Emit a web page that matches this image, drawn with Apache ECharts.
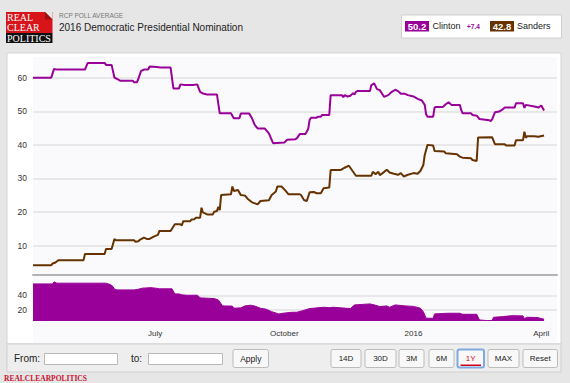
<!DOCTYPE html>
<html><head><meta charset="utf-8">
<script src="https://cdn.jsdelivr.net/npm/echarts@6/dist/echarts.min.js"></script>
<style>html,body{margin:0;padding:0;background:#e6e6e6;overflow:hidden}#c{width:570px;height:383px}</style>
</head><body><div id="c"></div>
<script>
// ---- data (RCP poll average, 2016 Democratic nomination) ----
const clinton = [
['2015-04-05',60.0],['2015-04-18',60.0],['2015-04-20',62.6],['2015-04-22',62.4],['2015-05-12',62.4],['2015-05-14',64.4],
['2015-05-26',64.4],['2015-05-27',63.8],['2015-05-31',63.8],['2015-06-02',60.0],['2015-06-04',59.6],['2015-06-06',59.1],
['2015-06-15',59.1],['2015-06-16',58.6],['2015-06-18',58.6],['2015-06-19',59.6],['2015-06-21',62.0],['2015-06-23',62.4],
['2015-06-26',62.4],['2015-06-27',63.3],['2015-07-02',63.2],['2015-07-05',63.0],['2015-07-12',63.0],['2015-07-14',56.8],
['2015-07-18',56.8],['2015-07-19',58.0],['2015-07-22',57.8],['2015-07-28',57.8],['2015-07-31',58.0],['2015-08-02',55.8],
['2015-08-04',55.3],['2015-08-07',55.0],['2015-08-14',55.0],['2015-08-16',49.4],['2015-08-24',49.4],['2015-08-26',47.9],
['2015-08-30',47.9],['2015-08-31',49.3],['2015-09-06',49.3],['2015-09-08',47.9],['2015-09-10',45.9],['2015-09-12',44.9],
['2015-09-17',44.9],['2015-09-20',43.4],['2015-09-23',40.5],['2015-10-01',40.7],['2015-10-03',41.5],['2015-10-09',41.7],
['2015-10-10',42.0],['2015-10-12',43.2],['2015-10-16',43.2],['2015-10-18',44.7],['2015-10-19',47.4],['2015-10-20',48.1],
['2015-10-24',48.1],['2015-10-25',48.4],['2015-10-27',48.4],['2015-10-28',48.9],['2015-11-02',48.9],['2015-11-03',54.8],
['2015-11-11',54.8],['2015-11-12',54.2],['2015-11-13',54.8],['2015-11-15',54.4],['2015-11-17',54.6],['2015-11-19',55.4],
['2015-11-20',55.0],['2015-11-21',55.8],['2015-11-22',56.0],['2015-12-01',56.0],['2015-12-02',57.8],['2015-12-04',58.3],
['2015-12-06',56.6],['2015-12-08',56.3],['2015-12-10',55.0],['2015-12-11',54.3],['2015-12-14',54.8],['2015-12-16',55.6],
['2015-12-19',56.4],['2015-12-21',56.0],['2015-12-23',55.2],['2015-12-26',55.2],['2015-12-28',54.8],['2016-01-01',54.4],
['2016-01-04',53.7],['2016-01-07',53.2],['2016-01-09',51.9],['2016-01-10',49.1],['2016-01-11',48.4],['2016-01-15',48.4],
['2016-01-16',51.1],['2016-01-17',51.3],['2016-01-22',51.3],['2016-01-24',52.1],['2016-01-26',52.7],['2016-01-28',51.9],
['2016-02-03',51.9],['2016-02-04',50.4],['2016-02-05',49.4],['2016-02-11',49.4],['2016-02-12',48.9],['2016-02-15',48.7],
['2016-02-17',47.7],['2016-02-24',47.3],['2016-02-25',47.1],['2016-02-26',47.6],['2016-02-28',49.7],['2016-03-02',49.9],
['2016-03-04',50.4],['2016-03-06',51.1],['2016-03-13',51.1],['2016-03-14',52.4],['2016-03-19',52.4],['2016-03-20',51.0],
['2016-03-21',51.9],['2016-03-27',51.4],['2016-03-30',51.1],['2016-04-01',51.7],['2016-04-03',50.2]
];
const sanders = [
['2015-04-05',4.2],['2015-04-18',4.2],['2015-04-19',4.7],['2015-04-21',5.0],['2015-04-23',5.7],['2015-05-11',5.7],
['2015-05-12',7.5],['2015-05-26',7.5],['2015-05-27',9.0],['2015-05-31',9.0],['2015-06-02',12.0],['2015-06-03',11.6],
['2015-06-16',11.6],['2015-06-17',11.2],['2015-06-19',11.3],['2015-06-20',11.7],['2015-06-23',12.4],['2015-06-25',12.0],
['2015-06-27',12.0],['2015-06-30',12.7],['2015-07-03',13.2],['2015-07-04',14.4],['2015-07-12',14.4],['2015-07-15',16.4],
['2015-07-19',16.4],['2015-07-20',16.0],['2015-07-21',17.3],['2015-07-26',17.3],['2015-07-27',17.8],['2015-07-29',17.9],
['2015-07-30',18.3],['2015-08-02',18.3],['2015-08-03',21.3],['2015-08-04',19.9],['2015-08-07',19.3],['2015-08-11',19.3],
['2015-08-12',20.1],['2015-08-14',20.3],['2015-08-15',21.6],['2015-08-16',20.6],['2015-08-17',25.1],['2015-08-24',25.3],
['2015-08-25',27.6],['2015-08-26',26.3],['2015-08-29',26.6],['2015-08-31',25.1],['2015-09-03',24.9],['2015-09-05',23.9],
['2015-09-08',22.9],['2015-09-12',22.3],['2015-09-14',23.3],['2015-09-20',23.5],['2015-09-22',25.1],['2015-09-25',26.1],
['2015-09-26',27.6],['2015-09-29',27.6],['2015-10-02',26.3],['2015-10-04',25.3],['2015-10-12',25.3],['2015-10-13',25.0],
['2015-10-15',23.6],['2015-10-17',23.3],['2015-10-19',25.9],['2015-10-22',26.0],['2015-10-24',25.6],['2015-10-27',25.6],
['2015-10-29',27.1],['2015-11-02',27.3],['2015-11-03',32.5],['2015-11-10',32.5],['2015-11-13',33.2],['2015-11-16',33.8],
['2015-11-17',33.2],['2015-11-21',30.8],['2015-12-02',30.8],['2015-12-03',32.0],['2015-12-05',31.3],['2015-12-07',32.0],
['2015-12-08',31.0],['2015-12-10',31.6],['2015-12-13',32.6],['2015-12-15',31.8],['2015-12-18',31.4],['2015-12-21',31.1],
['2015-12-23',31.6],['2015-12-25',30.6],['2015-12-28',31.1],['2016-01-01',31.6],['2016-01-04',31.4],['2016-01-06',32.3],
['2016-01-08',34.0],['2016-01-09',37.0],['2016-01-11',40.0],['2016-01-15',39.8],['2016-01-16',38.2],['2016-01-23',38.0],
['2016-01-24',37.5],['2016-02-01',37.2],['2016-02-03',36.5],['2016-02-05',36.2],['2016-02-11',36.0],['2016-02-12',35.5],
['2016-02-15',35.2],['2016-02-16',42.2],['2016-02-26',42.3],['2016-02-28',40.2],['2016-03-06',40.2],['2016-03-07',39.8],
['2016-03-13',39.8],['2016-03-14',41.4],['2016-03-19',41.4],['2016-03-20',43.9],['2016-03-21',42.1],['2016-03-22',42.6],
['2016-03-27',42.6],['2016-03-30',42.4],['2016-04-03',42.8]
];
// navigator series (Clinton lead)
const navigator = [
['2015-04-05',55.8],['2015-04-19',55.8],['2015-04-20',58.6],['2015-04-22',56.8],['2015-05-27',56.8],['2015-05-30',55.0],
['2015-06-01',52.1],['2015-06-02',48.6],['2015-06-04',47.6],['2015-06-16',47.6],['2015-06-19',48.5],['2015-06-22',50.0],
['2015-06-28',50.7],['2015-07-02',49.8],['2015-07-04',49.1],['2015-07-13',49.1],['2015-07-15',42.1],['2015-07-18',42.1],
['2015-07-20',40.8],['2015-07-24',40.3],['2015-07-31',40.3],['2015-08-02',37.0],['2015-08-03',36.6],['2015-08-12',35.7],
['2015-08-15',33.9],['2015-08-18',25.7],['2015-08-25',25.4],['2015-08-26',22.5],['2015-08-31',23.0],['2015-09-03',25.7],
['2015-09-07',26.6],['2015-09-10',25.4],['2015-09-14',22.5],['2015-09-18',21.2],['2015-09-22',17.8],['2015-09-27',14.7],
['2015-09-30',15.6],['2015-10-06',16.9],['2015-10-10',17.0],['2015-10-14',19.2],['2015-10-19',22.0],['2015-10-29',23.8],
['2015-11-02',23.3],['2015-11-05',23.8],['2015-11-17',22.0],['2015-11-20',27.0],['2015-12-01',28.4],['2015-12-05',26.6],
['2015-12-08',24.7],['2015-12-13',25.7],['2015-12-15',23.8],['2015-12-19',27.0],['2015-12-26',25.7],['2016-01-01',25.0],
['2016-01-06',22.5],['2016-01-08',17.8],['2016-01-10',8.8],['2016-01-15',8.8],['2016-01-16',14.7],['2016-01-25',15.6],
['2016-02-03',15.6],['2016-02-05',14.2],['2016-02-15',14.2],['2016-02-17',6.4],['2016-02-23',5.5],['2016-02-26',5.8],
['2016-02-27',10.1],['2016-03-05',11.0],['2016-03-11',12.3],['2016-03-19',12.0],['2016-03-20',8.3],['2016-03-22',10.1],
['2016-03-29',9.8],['2016-04-01',8.5],['2016-04-03',7.4]
];
const names = ['Clinton','Sanders'];
const xRange = ['2015-04-05','2016-04-12 05:00'];
const mainYTicks = {min:0, max:66, interval:10};
const navYRange = {min:5, max:68};
const navYTicks = [20, 40];
const navXTickDates = ['2015-07-01','2015-10-01','2016-01-01','2016-04-01'];
const navXTickLabels = ['July','October','2016','April'];
const rangeButtons = ['14D','30D','3M','6M','1Y','MAX','Reset'];
const selectedRange = '1Y';

// ---- styles / layout ----
const C_CL = '#990099', C_SA = '#663300';
const SANS = 'Liberation Sans, Arial, sans-serif';
const SERIF = 'Liberation Serif, Times New Roman, serif';
const btnX = [[331,361],[365,396],[399,424],[429,454],[457.5,484],[488,519],[523,557.5]];

const ts = s => echarts.time.parse(s).getTime();
const navXTickTs = navXTickDates.map(ts);
const labelOf = {}; navXTickTs.forEach((t,i)=>labelOf[t]=navXTickLabels[i]);

function rect(x,y,w,h,fill,stroke,lw,r,z){
  return {type:'rect', z:z==null?-10:z, silent:true, shape:{x,y,width:w,height:h,r:r||0},
    style:{fill:fill, stroke:stroke||null, lineWidth:lw||0}};
}
function text(x,y,str,font,fill,align,valign,z){
  return {type:'text', x, y, z:z==null?5:z, silent:true,
    style:{text:str, font:font, fill:fill, align:align||'left', textAlign:align||'left',
      verticalAlign:valign||'middle', textVerticalAlign:valign||'middle'}};
}

const lastC = clinton[clinton.length-1][1], lastS = sanders[sanders.length-1][1];
const lead = (lastC-lastS).toFixed(1);

const g = [];
g.push(rect(7,53,554,291,'#ffffff','#d4d4d4',1,0,-20));
g.push(rect(33,57,524,286,'#fafafc',null,0,0,-15));
g.push(rect(7,344,554,28,'#eeeeee','#cfcfcf',1,0,-12));
// logo
g.push(rect(6,12,46.5,21,'#d7141a',null,0,0,1));
g.push({type:'polygon',z:2,silent:true,shape:{points:[[45,12],[52.5,12],[52.5,19.5]]},style:{fill:'#e6e6e6'}});
g.push({type:'polygon',z:2,silent:true,shape:{points:[[45,12],[52.5,19.5],[45,19.5]]},style:{fill:'#9a1014'}});
g.push(rect(6,33,46.5,10,'#111111',null,0,0,1));
g.push(text(7,17.8,'REAL','10px '+SERIF,'#ffffff'));
g.push(text(7,27.3,'CLEAR','10px '+SERIF,'#ffffff'));
g.push(text(7,38.2,'POLITICS','10px '+SERIF,'#ffffff'));
// title
g.push(text(59,15.5,'RCP POLL AVERAGE','6.5px '+SANS,'#777777'));
g.push(text(59,27,'2016 Democratic Presidential Nomination','10px '+SANS,'#222222'));
// legend box
g.push(rect(401.5,15,160,23,'#ffffff','#cfcfcf',1,0,1));
g.push(rect(405,21,24,10.5,C_CL,null,0,0,2));
g.push(text(417,26.3,lastC.toFixed(1),'bold 9.5px '+SANS,'#ffffff','center'));
g.push(text(432.5,26.3,names[0],'9px '+SANS,'#222222'));
g.push(text(467,26.5,'+'+lead,'bold 6.5px '+SANS,C_CL));
g.push(rect(490,21,24,10.5,C_SA,null,0,0,2));
g.push(text(502,26.3,lastS.toFixed(1),'bold 9.5px '+SANS,'#ffffff','center'));
g.push(text(517,26.3,names[1],'9px '+SANS,'#222222'));
// controls
g.push(text(14,358.5,'From:','10px '+SANS,'#222222'));
g.push(rect(44.5,353.5,73,11,'#ffffff','#b9b9b9',1,0,1));
g.push(text(131,358.5,'to:','10px '+SANS,'#222222'));
g.push(rect(148.5,353.5,74,11,'#ffffff','#b9b9b9',1,0,1));
g.push(rect(233,349.5,35.5,18,'#f8f8f8','#bcbcbc',1,2,1));
g.push(text(250.75,358.5,'Apply','8.5px '+SANS,'#222222','center'));
rangeButtons.forEach((b,i)=>{
  const [x0,x1]=btnX[i]; const sel = b===selectedRange;
  g.push(rect(x0,349.5,x1-x0,18,'#f8f8f8',sel?'#7fa9df':'#bcbcbc',sel?2:1,2,1));
  g.push(text((x0+x1)/2,358.3,b,'8px '+SANS,sel?'#d0021b':'#222222','center'));
  if(sel) g.push(rect(x0+3,364.5,x1-x0-6,1.5,'#d0021b',null,0,0,3));
});
g.push(text(4,378,'REALCLEARPOLITICS','bold 7.5px '+SERIF,'#c8102e'));

const xMin = ts(xRange[0]), xMax = ts(xRange[1]);
const option = {
  animation:false,
  backgroundColor:'#e6e6e6',
  graphic:{elements:g},
  grid:[
    {left:33,right:13,top:57.5,bottom:103.7},
    {left:33,right:13,top:275,bottom:62}
  ],
  xAxis:[
    {type:'value',gridIndex:0,min:xMin,max:xMax,
     axisLine:{show:false},axisTick:{show:false},axisLabel:{show:false},splitLine:{show:false}},
    {type:'value',gridIndex:1,min:xMin,max:xMax,
     axisLine:{show:false},axisTick:{show:false},splitLine:{show:false},
     axisLabel:{customValues:navXTickTs,formatter:v=>labelOf[v]||'',fontSize:8,fontFamily:SANS,color:'#333',margin:8}},
    {type:'value',gridIndex:1,position:'top',min:xMin,max:xMax,
     axisLine:{show:true,lineStyle:{color:'#b3b3b3',width:2}},axisTick:{show:false},axisLabel:{show:false},splitLine:{show:false}}
  ],
  yAxis:[
    {type:'value',gridIndex:0,min:mainYTicks.min,max:mainYTicks.max,interval:mainYTicks.interval,
     axisLine:{show:false},axisTick:{show:false},
     axisLabel:{showMinLabel:false,showMaxLabel:false,fontSize:8.5,fontFamily:SANS,color:'#333',margin:6},
     splitLine:{showMinLine:false,showMaxLine:false,lineStyle:{color:'#e2e2e2',width:1.5}}},
    {type:'value',gridIndex:1,min:navYRange.min,max:navYRange.max,
     axisLine:{show:false},axisTick:{show:false,customValues:navYTicks},
     axisLabel:{customValues:navYTicks,fontSize:8.5,fontFamily:SANS,color:'#333',margin:6},
     splitLine:{lineStyle:{color:'#e2e2e2',width:1.5}}}
  ],
  series:[
    {name:names[0],type:'line',xAxisIndex:0,yAxisIndex:0,data:clinton.map(d=>[ts(d[0]),d[1]]),
     showSymbol:false,lineStyle:{color:C_CL,width:2},itemStyle:{color:C_CL},z:3},
    {name:names[1],type:'line',xAxisIndex:0,yAxisIndex:0,data:sanders.map(d=>[ts(d[0]),d[1]]),
     showSymbol:false,lineStyle:{color:C_SA,width:2},itemStyle:{color:C_SA},z:3},
    {name:'lead',type:'line',xAxisIndex:1,yAxisIndex:1,data:navigator.map(d=>[ts(d[0]),d[1]]),
     showSymbol:false,lineStyle:{color:C_CL,width:1},itemStyle:{color:C_CL},areaStyle:{color:C_CL,opacity:1},z:3}
  ]
};
const chart = echarts.init(document.getElementById('c'),null,{renderer:'svg'});
chart.setOption(option);
</script></body></html>
